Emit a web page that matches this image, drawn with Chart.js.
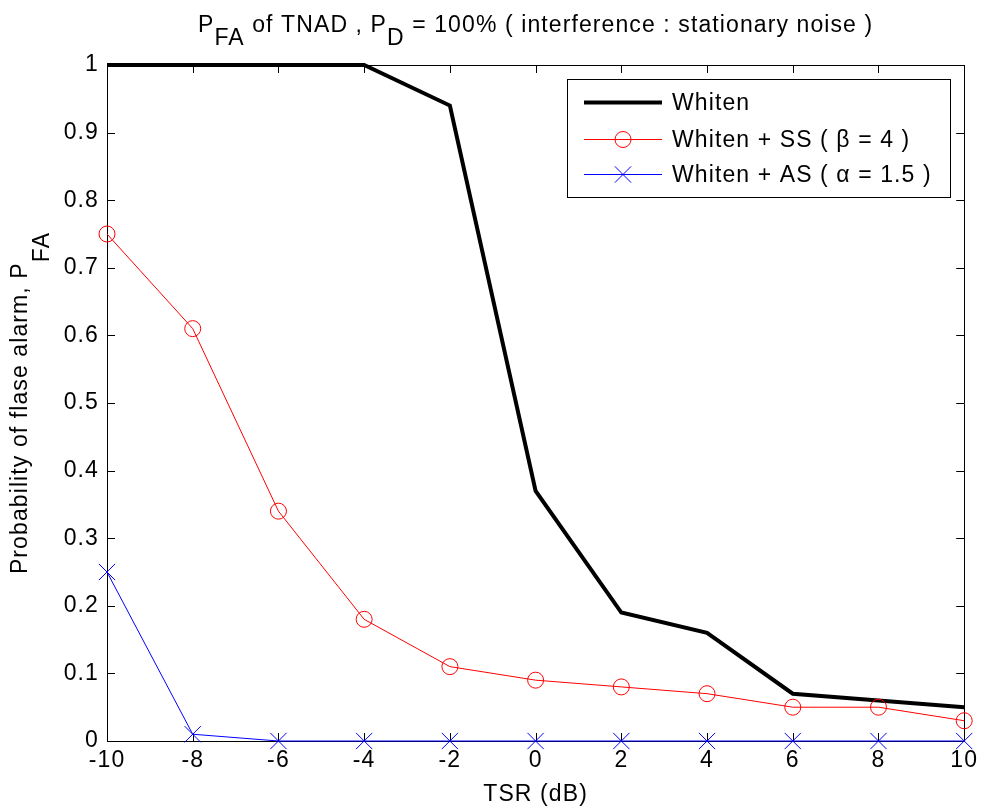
<!DOCTYPE html>
<html>
<head>
<meta charset="utf-8">
<script src="https://cdn.jsdelivr.net/npm/chart.js@4.4.1/dist/chart.umd.min.js"></script>
<style>
html,body{margin:0;padding:0;background:#fff;}
#wrap{width:983px;height:812px;position:relative;}
</style>
</head>
<body>
<div id="wrap"><canvas id="c" width="983" height="812"></canvas></div>
<script>
// ---- data ----
const tsr = [-10, -8, -6, -4, -2, 0, 2, 4, 6, 8, 10];
const whiten = [1, 1, 1, 1, 0.94, 0.37, 0.19, 0.16, 0.07, 0.06, 0.05];
const whitenSS = [0.75, 0.61, 0.34, 0.18, 0.11, 0.09, 0.08, 0.07, 0.05, 0.05, 0.03];
const whitenAS = [0.25, 0.01, 0, 0, 0, 0, 0, 0, 0, 0, 0];
const xTicks = [-10, -8, -6, -4, -2, 0, 2, 4, 6, 8, 10];
const yTicks = [0, 0.1, 0.2, 0.3, 0.4, 0.5, 0.6, 0.7, 0.8, 0.9, 1];
const seriesNames = ['Whiten', 'Whiten + SS ( \u03B2 = 4 )', 'Whiten + AS ( \u03B1 = 1.5 )'];
const titleParts = [['P', 0], ['FA', 1], [' of TNAD , P', 0], ['D', 1], [' = 100% ( interference : stationary noise )', 0]];
const xTitle = 'TSR (dB)';
const yTitleParts = [['Probability of flase alarm, P', 0], ['FA', 1]];

const FONT = '"Liberation Sans", Arial, Helvetica, sans-serif';
const FS = 23;
const LS = '1.1px';

function pts(vals){ return tsr.map((x,i)=>({x:x, y:vals[i]})); }

function drawParts(ctx, parts, size, subDrop){
  ctx.font = size + 'px ' + FONT;
  let total = 0;
  parts.forEach(p => { total += ctx.measureText(p[0]).width; });
  let x = -total/2;
  ctx.textAlign = 'left';
  ctx.textBaseline = 'alphabetic';
  parts.forEach(p => {
    ctx.fillText(p[0], x, p[1] ? subDrop : 0);
    x += ctx.measureText(p[0]).width;
  });
}

const decor = {
  id: 'decor',
  beforeDraw(chart){
    chart.ctx.letterSpacing = LS;
  },
  beforeDatasetsDraw(chart){
    const ctx = chart.ctx;
    const a = chart.chartArea;
    const xs = chart.scales.x, ys = chart.scales.y;
    ctx.save();
    ctx.strokeStyle = '#000';
    ctx.lineWidth = 1;
    ctx.beginPath();
    ctx.rect(Math.round(a.left)+0.5, Math.round(a.top)+0.5, Math.round(a.right-a.left), Math.round(a.bottom-a.top));
    ctx.stroke();
    const tl = 8;
    ctx.beginPath();
    xTicks.forEach(v => {
      const px = Math.round(xs.getPixelForValue(v))+0.5;
      ctx.moveTo(px, a.bottom); ctx.lineTo(px, a.bottom - tl);
      ctx.moveTo(px, a.top); ctx.lineTo(px, a.top + tl);
    });
    yTicks.forEach(v => {
      const py = Math.round(ys.getPixelForValue(v))+0.5;
      ctx.moveTo(a.left, py); ctx.lineTo(a.left + tl, py);
      ctx.moveTo(a.right, py); ctx.lineTo(a.right - tl, py);
    });
    ctx.stroke();
    ctx.restore();
  },
  afterDraw(chart){
    const ctx = chart.ctx;
    const a = chart.chartArea;
    // title
    ctx.save();
    ctx.letterSpacing = LS;
    ctx.fillStyle = '#000';
    ctx.translate((a.left + a.right)/2, 32);
    drawParts(ctx, titleParts, FS, 13);
    ctx.restore();
    // x title
    ctx.save();
    ctx.letterSpacing = LS;
    ctx.fillStyle = '#000';
    ctx.translate((a.left + a.right)/2, 801);
    drawParts(ctx, [[xTitle,0]], FS, 0);
    ctx.restore();
    // y title
    ctx.save();
    ctx.letterSpacing = LS;
    ctx.fillStyle = '#000';
    ctx.translate(27, (a.top + a.bottom)/2);
    ctx.rotate(-Math.PI/2);
    drawParts(ctx, yTitleParts, FS, 22);
    ctx.restore();

    // legend
    ctx.save();
    ctx.letterSpacing = LS;
    const lx0 = 567, ly0 = 79, lx1 = 950, ly1 = 197;
    ctx.fillStyle = '#fff';
    ctx.fillRect(lx0, ly0, lx1-lx0, ly1-ly0);
    ctx.strokeStyle = '#000';
    ctx.lineWidth = 1;
    ctx.strokeRect(lx0+0.5, ly0+0.5, lx1-lx0, ly1-ly0);
    const rowsY = [102, 139, 174];
    chart.data.datasets.forEach((ds, i) => {
      const y = rowsY[i] + 0.5;
      ctx.strokeStyle = ds.borderColor;
      ctx.lineWidth = ds.borderWidth;
      ctx.beginPath();
      ctx.moveTo(584, y); ctx.lineTo(662, y);
      ctx.stroke();
      if (ds.pointRadius > 0) {
        ctx.fillStyle = 'rgba(0,0,0,0)';
        ctx.strokeStyle = ds.pointBorderColor;
        ctx.lineWidth = ds.pointBorderWidth;
        Chart.helpers.drawPoint(ctx, {pointStyle: ds.pointStyle, radius: ds.pointRadius, borderWidth: ds.pointBorderWidth, rotation: 0}, 623, y);
      }
      ctx.fillStyle = '#000';
      ctx.font = FS + 'px ' + FONT;
      ctx.textAlign = 'left';
      ctx.textBaseline = 'middle';
      ctx.fillText(seriesNames[i], 672, y + 1);
    });
    ctx.restore();
  }
};

const chart = new Chart(document.getElementById('c'), {
  type: 'line',
  data: {
    datasets: [
      { label: seriesNames[0], data: pts(whiten), borderColor: '#000000', backgroundColor: '#000000', borderWidth: 4, pointRadius: 0, pointStyle: false, tension: 0, clip: false, order: 3 },
      { label: seriesNames[1], data: pts(whitenSS), borderColor: '#ff0000', backgroundColor: 'rgba(0,0,0,0)', borderWidth: 1, pointRadius: 8, pointStyle: 'circle', pointBorderWidth: 1, pointBackgroundColor: 'rgba(0,0,0,0)', pointBorderColor: '#ff0000', tension: 0, clip: false, order: 2 },
      { label: seriesNames[2], data: pts(whitenAS), borderColor: '#0000ff', backgroundColor: 'rgba(0,0,0,0)', borderWidth: 1, pointRadius: 11.5, pointStyle: 'crossRot', pointBorderWidth: 1, pointBorderColor: '#0000ff', tension: 0, clip: false, order: 1 }
    ]
  },
  options: {
    responsive: false,
    animation: false,
    devicePixelRatio: 1,
    layout: { padding: { left: 0, right: 18, top: 65, bottom: 0 } },
    plugins: { legend: { display: false }, title: { display: false }, tooltip: { enabled: false } },
    scales: {
      x: {
        type: 'linear', min: -10, max: 10,
        afterFit(s){ s.height = 71; },
        afterBuildTicks(s){ s.ticks = xTicks.map(v => ({value: v})); },
        grid: { display: false, drawTicks: false },
        border: { display: false },
        ticks: { color: '#000', font: { family: FONT, size: FS }, padding: 6, maxRotation: 0, autoSkip: false, callback: v => String(v) }
      },
      y: {
        type: 'linear', min: 0, max: 1,
        afterFit(s){ s.width = 107; },
        afterBuildTicks(s){ s.ticks = yTicks.map(v => ({value: v})); },
        grid: { display: false, drawTicks: false },
        border: { display: false },
        ticks: { color: '#000', font: { family: FONT, size: FS }, padding: 8, autoSkip: false, callback: v => String(Math.round(v*10)/10) }
      }
    }
  },
  plugins: [decor]
});
</script>
</body>
</html>
